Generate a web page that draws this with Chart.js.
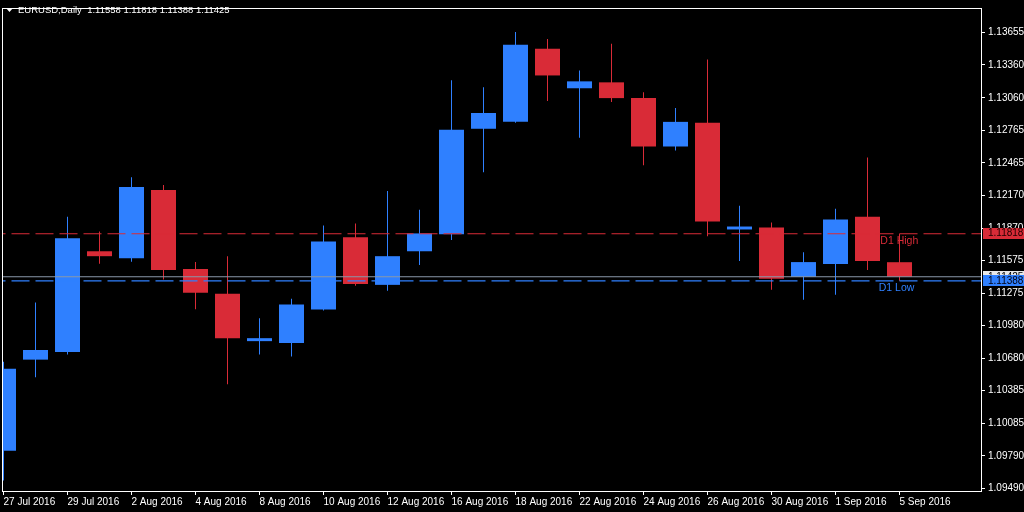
<!DOCTYPE html>
<html>
<head>
<meta charset="utf-8">
<title>EURUSD,Daily</title>
<script src="https://cdn.jsdelivr.net/npm/chart.js@4.4.1/dist/chart.umd.min.js"></script>
<style>
    html, body { margin: 0; padding: 0; background: #000; }
    canvas { display: block; }
</style>
</head>
<body>
<canvas id="grafico" width="1024" height="512"></canvas>
<script>
// Dados das velas diárias (EURUSD)
const categorias = ['27 Jul 2016', '28 Jul 2016', '29 Jul 2016', '1 Aug 2016', '2 Aug 2016', '3 Aug 2016', '4 Aug 2016', '5 Aug 2016',
    '8 Aug 2016', '9 Aug 2016', '10 Aug 2016', '11 Aug 2016', '12 Aug 2016', '15 Aug 2016', '16 Aug 2016', '17 Aug 2016',
    '18 Aug 2016', '19 Aug 2016', '22 Aug 2016', '23 Aug 2016', '24 Aug 2016', '25 Aug 2016', '26 Aug 2016', '29 Aug 2016',
    '30 Aug 2016', '31 Aug 2016', '1 Sep 2016', '2 Sep 2016', '5 Sep 2016'];

const abertura = [1.09836, 1.10668, 1.10738, 1.11658, 1.11595, 1.12218, 1.11496, 1.11270, 1.10837, 1.10819, 1.11126, 1.11785,
    1.11351, 1.11658, 1.11814, 1.12777, 1.12840, 1.13508, 1.13147, 1.13201, 1.13057, 1.12615, 1.12831, 1.11857, 1.11875,
    1.11424, 1.11541, 1.11974, 1.11558];
const maxima = [1.10648, 1.11189, 1.11974, 1.11839, 1.12335, 1.12263, 1.11559, 1.11613, 1.11045, 1.11225, 1.11893, 1.11911,
    1.12209, 1.12037, 1.13219, 1.13156, 1.13661, 1.13598, 1.13309, 1.13553, 1.13111, 1.12967, 1.13409, 1.12073, 1.11920,
    1.11649, 1.12046, 1.12515, 1.11818];
const minima = [1.09565, 1.10506, 1.10714, 1.11544, 1.11562, 1.11399, 1.11129, 1.10443, 1.10714, 1.10696, 1.11117, 1.11342,
    1.11297, 1.11532, 1.11760, 1.12380, 1.12831, 1.13030, 1.12696, 1.13021, 1.12443, 1.12579, 1.11794, 1.11568, 1.11306,
    1.11216, 1.11261, 1.11487, 1.11388];
const fechamento = [1.10585, 1.10756, 1.11776, 1.11613, 1.12245, 1.11487, 1.11279, 1.10864, 1.10864, 1.11171, 1.11748, 1.11360,
    1.11613, 1.11821, 1.12768, 1.12921, 1.13544, 1.13264, 1.13210, 1.13057, 1.12615, 1.12840, 1.11929, 1.11884, 1.11406,
    1.11559, 1.11947, 1.11568, 1.11425];

// Rótulos do eixo de preços e índices das datas mostradas embaixo
const ticksPreco = [1.13655, 1.13360, 1.13060, 1.12765, 1.12465, 1.12170, 1.11870, 1.11575, 1.11275, 1.10980, 1.10680,
    1.10385, 1.10085, 1.09790, 1.09490];
const ticksData = [0, 2, 4, 6, 8, 10, 12, 14, 16, 18, 20, 22, 24, 26, 28];

// Níveis do dia (D1 High / D1 Low) e o bid atual
const d1High = 1.11818;
const d1Low = 1.11388;
const bid = 1.11425;

const azul = '#2f80ff';
const vermelho = '#d92b37';
const cinza = '#8a99aa';
const fonte = 'Liberation Sans';

const cores = abertura.map((o, i) => o <= fechamento[i] ? azul : vermelho);

// Cada vela = pavio (barra fina) + corpo (barra flutuante)
const pavios = categorias.map((c, i) => ({ x: i, y: [minima[i], maxima[i]] }));
const corpos = categorias.map((c, i) => ({ x: i, y: [abertura[i], fechamento[i]] }));

function linhaNivel(valor, cor, tracejado) {
    return {
        type: 'line',
        data: [{ x: -5, y: valor }, { x: 40, y: valor }],
        borderColor: cor,
        borderWidth: 1.2,
        borderDash: tracejado,
        pointRadius: 0,
        order: 0
    };
}

// Plugin: moldura, título, textos D1 e caixas de preço na escala
const extras = {
    id: 'extras',
    afterDraw(chart) {
        const { ctx, chartArea, scales } = chart;
        const y = scales.y, x = scales.x;
        ctx.save();

        ctx.strokeStyle = '#fff';
        ctx.lineWidth = 1;
        ctx.strokeRect(chartArea.left - 0.5, chartArea.top - 0.5, chartArea.width + 1, chartArea.height + 1);

        // título
        ctx.fillStyle = '#fff';
        ctx.beginPath();
        ctx.moveTo(6, 8);
        ctx.lineTo(13, 8);
        ctx.lineTo(9.5, 12);
        ctx.closePath();
        ctx.fill();
        ctx.font = '9.5px "' + fonte + '"';
        ctx.textBaseline = 'middle';
        ctx.textAlign = 'left';
        ctx.fillText('EURUSD,Daily  ' + [abertura[28], maxima[28], minima[28], fechamento[28]].map(v => v.toFixed(5)).join(' '), 18, 10);

        // textos dos níveis
        ctx.font = '10.5px "' + fonte + '"';
        ctx.fillStyle = vermelho;
        ctx.fillText('D1 High', x.getPixelForValue(27.4), y.getPixelForValue(d1High) + 7);
        ctx.fillStyle = azul;
        ctx.fillText('D1 Low', x.getPixelForValue(27.35), y.getPixelForValue(d1Low) + 7);

        // caixas de preço no eixo
        const caixa = (valor, fundo, corTexto) => {
            const py = y.getPixelForValue(valor);
            ctx.fillStyle = fundo;
            ctx.fillRect(chartArea.right + 2, Math.round(py) - 6, 1024 - chartArea.right - 2, 11);
            ctx.fillStyle = corTexto;
            ctx.font = '10px "' + fonte + '"';
            ctx.fillText(valor.toFixed(5), chartArea.right + 7, py);
        };
        caixa(bid, '#e8e8e8', '#000');
        caixa(d1High, vermelho, '#200');
        caixa(d1Low, azul, '#001');

        ctx.restore();
    }
};

const ctx = document.getElementById('grafico').getContext('2d');

new Chart(ctx, {
    type: 'bar',
    data: {
        datasets: [
            linhaNivel(d1High, vermelho, [18, 6]),
            linhaNivel(d1Low, azul, [18, 6]),
            linhaNivel(bid, cinza, []),
            {
                data: corpos,
                backgroundColor: cores,
                borderWidth: 0,
                barThickness: 25,
                grouped: false,
                inflateAmount: 0,
                order: 1
            },
            {
                data: pavios,
                backgroundColor: cores,
                borderWidth: 0,
                barThickness: 1,
                grouped: false,
                inflateAmount: 0,
                order: 2
            }
        ]
    },
    options: {
        responsive: false,
        animation: false,
        layout: { padding: { left: 3, top: 3, right: 0, bottom: 0 } },
        plugins: {
            legend: { display: false },
            tooltip: { enabled: false }
        },
        scales: {
            x: {
                type: 'linear',
                offset: false,
                min: -0.5 / 32,
                max: -0.5 / 32 + 978 / 32,
                grid: { display: true, offset: false, drawOnChartArea: false, color: '#fff', tickLength: 4 },
                border: { color: '#fff' },
                ticks: {
                    color: '#fff',
                    font: { family: fonte, size: 10 },
                    align: 'start',
                    maxRotation: 0,
                    autoSkip: false,
                    padding: 1,
                    callback: v => categorias[v]
                },
                afterBuildTicks: s => { s.ticks = ticksData.map(v => ({ value: v })); },
                afterFit: s => { s.height = 21; }
            },
            y: {
                position: 'right',
                min: 1.09468,
                max: 1.13871,
                grid: { display: true, drawOnChartArea: false, color: '#fff', tickLength: 4 },
                border: { color: '#fff' },
                ticks: {
                    color: '#fff',
                    font: { family: fonte, size: 10 },
                    autoSkip: false,
                    padding: 3,
                    callback: v => v.toFixed(5)
                },
                afterBuildTicks: s => { s.ticks = ticksPreco.map(v => ({ value: v })); },
                afterFit: s => { s.width = 43; }
            }
        }
    },
    plugins: [extras]
});
</script>
</body>
</html>
